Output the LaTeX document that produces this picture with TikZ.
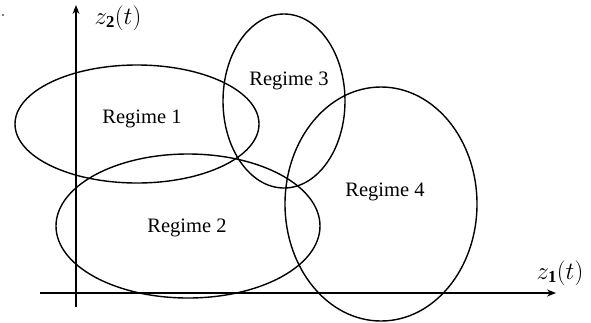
\documentclass[tikz,border=0pt]{standalone}
\usepackage{amsmath}
\usepackage{fontspec}
\setmainfont{Liberation Serif}
\usetikzlibrary{arrows.meta}

\begin{document}
\begin{tikzpicture}[x=1pt, y=-1pt,
    region/.style={line width=1.4pt},
    axis/.style={line width=1.5pt, -{Stealth[length=9pt, width=7pt, inset=3pt]}},
    lbl/.style={font=\fontsize{20.5}{24}\selectfont, inner sep=0pt},
    axlbl/.style={font=\fontsize{24}{28}\selectfont, inner sep=0pt}
  ]
    \useasboundingbox (0,0) rectangle (591,322);

    % Axes
    \coordinate (xs) at (40,293);
    \coordinate (xe) at (556,293);
    \coordinate (ys) at (76,307);
    \coordinate (ye) at (76,5);
    \draw[axis] (xs) -- (xe);
    \draw[axis] (ys) -- (ye);
    \node[axlbl] (z1) at (560,273) {$z_{\mathbf{1}}(t)$};
    \node[axlbl] (z2) at (118,18) {$z_{\mathbf{2}}(t)$};
    \fill (3,15) circle (0.9pt);

    % Regimes
    \draw[region] (137,124) ellipse [x radius=122, y radius=59];
    \draw[region] (188,226) ellipse [x radius=132, y radius=72];
    \draw[region] (284,101) ellipse [x radius=61, y radius=87];
    \draw[region] (381,204) ellipse [x radius=96, y radius=117];

    \node[lbl] (r1) at (142,119) {Regime 1};
    \node[lbl] (r2) at (187,228) {Regime 2};
    \node[lbl] (r3) at (289,81) {Regime 3};
    \node[lbl] (r4) at (385,192) {Regime 4};
\end{tikzpicture}
\end{document}
